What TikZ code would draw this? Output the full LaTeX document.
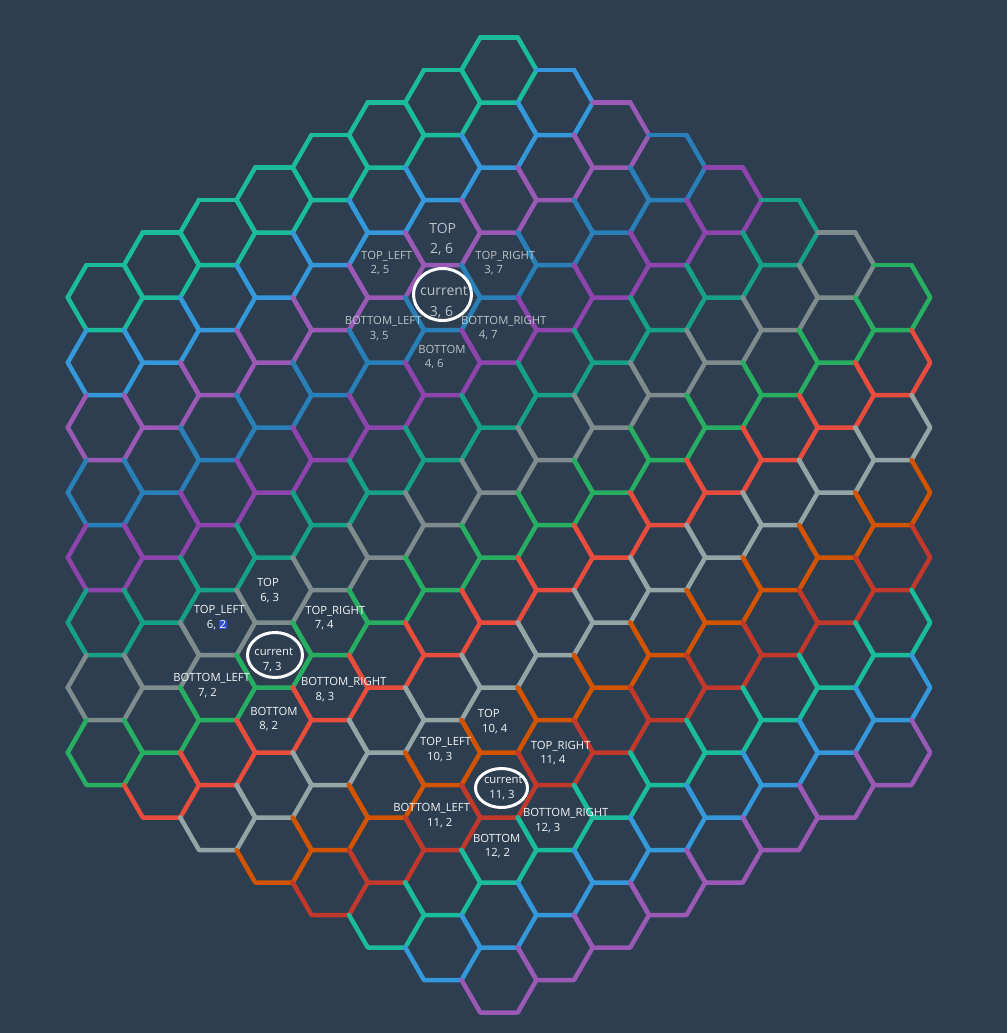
\documentclass[tikz,border=0pt]{standalone}
\usepackage{fontspec}
\setmainfont{Open Sans}
\usetikzlibrary{calc}
\definecolor{cBg}{HTML}{2C3E50}
\definecolor{cRow0}{HTML}{1ABC9C}
\definecolor{cRow1}{HTML}{3498DB}
\definecolor{cRow2}{HTML}{9B59B6}
\definecolor{cRow3}{HTML}{2980B9}
\definecolor{cRow4}{HTML}{8E44AD}
\definecolor{cRow5}{HTML}{16A085}
\definecolor{cRow6}{HTML}{7F8C8D}
\definecolor{cRow7}{HTML}{27AE60}
\definecolor{cRow8}{HTML}{E74C3C}
\definecolor{cRow9}{HTML}{95A5A6}
\definecolor{cRow10}{HTML}{D35400}
\definecolor{cRow11}{HTML}{C0392B}
\definecolor{cLabel}{HTML}{BDC3C7}
\definecolor{cWhite}{HTML}{F4F6F7}
\definecolor{cSelect}{RGB}{52,78,214}
\tikzset{
  hexedge/.style={line width=4.5pt, line cap=round, line join=round},
  %% neighbour labels
  lbl/.style={anchor=base, inner sep=0pt, font=\fontsize{11.3}{13}\selectfont},
  lblBig/.style={lbl, font=\fontsize{14}{16}\selectfont},
  lblA/.style={lbl, text=cLabel},
  lblAbig/.style={lblBig, text=cLabel},
  lblW/.style={lbl, text=cWhite},
  %% ring round the current cell
  ring/.style={draw=white, line width=3pt},
}

\begin{document}
\begin{tikzpicture}[x=1pt, y=-1pt]

%% background, 1 unit = 1 px of the 1007 x 1033 picture
\fill[cBg] (0,0) rectangle (1007,1033);
\useasboundingbox (0,0) rectangle (1007,1033);

%% ============================================================
%%  HEX GRID  -- 15 rows x 15 cols, |row-col| <= 7
%%  rows drawn top band first; an edge shared with the row
%%  above is left to that row
%% ============================================================
\foreach \row in {0,...,14} {
  \pgfmathtruncatemacro{\cmin}{max(0,\row-7)}
  \pgfmathtruncatemacro{\cmax}{min(14,\row+7)}
  \pgfmathtruncatemacro{\ci}{mod(\row,12)}
  \foreach \col in {\cmin,...,\cmax} {
    \pgfmathsetmacro{\hx}{499+(\col-7)*56.25}
    \pgfmathsetmacro{\hy}{297.5+65*\row-32.5*\col}
    \pgfmathtruncatemacro{\hasTL}{and(\row>0,\col>0)}
    \pgfmathtruncatemacro{\hasT}{and(\row>0,\col<\row+7)}
    \begin{scope}[shift={(\hx,\hy)}]
      \draw[hexedge, draw=cRow\ci]
        (18.75,-32.5) -- (37.5,0) -- (18.75,32.5) -- (-18.75,32.5) -- (-37.5,0);
      \ifnum\hasTL=0
        \draw[hexedge, draw=cRow\ci] (-37.5,0) -- (-18.75,-32.5);
      \fi
      \ifnum\hasT=0
        \draw[hexedge, draw=cRow\ci] (-18.75,-32.5) -- (18.75,-32.5);
      \fi
    \end{scope}
  }
}

%% ============================================================
%%  CURRENT CELLS
%% ============================================================
\draw[ring] (442.5,294.5) ellipse [x radius=29, y radius=26];
\draw[ring] (275,655) ellipse [x radius=27.5, y radius=22.5];
\draw[ring] (501.5,788) ellipse [x radius=26, y radius=19.5];

%% ----- cluster 1 (3, 6) -----
\foreach \nm/\px/\py/\txt in {aTop/442.7/233.3/TOP, aTopXY/441.7/253.3/{2, 6},
    aCur/444/295.7/current, aCurXY/441.5/316.7/{3, 6}} {
  \node[lblAbig] (\nm) at (\px,\py) {\txt};
}
\foreach \nm/\px/\py/\txt in {aTL/386.7/259/TOP\_LEFT, aTLXY/380/273.3/{2, 5},
    aTR/505.3/259/TOP\_RIGHT, aTRXY/493.8/273.3/{3, 7},
    aBL/383.2/324.3/BOTTOM\_LEFT, aBLXY/379.2/339.3/{3, 5},
    aBR/503.8/324.3/BOTTOM\_RIGHT, aBRXY/488.2/338.7/{4, 7},
    aB/442/353.3/BOTTOM, aBXY/434.2/367.3/{4, 6}} {
  \node[lblA] (\nm) at (\px,\py) {\txt};
}

%% ----- cluster 2 (7, 3) -----
\foreach \nm/\px/\py/\txt in {bTop/268/586.7/TOP, bTopXY/269.7/601.7/{6, 3},
    bTL/219.3/613.3/TOP\_LEFT,
    bTLXY/216.7/628.3/{6, {\fboxsep=0.6pt\colorbox{cSelect}{2}}},
    bTR/335.3/614/TOP\_RIGHT, bTRXY/324.2/628.3/{7, 4},
    bCur/273.7/655.7/current, bCurXY/272.2/670/{7, 3},
    bBL/211.7/681.7/BOTTOM\_LEFT, bBLXY/207.5/696.7/{7, 2},
    bBR/343.7/685.7/BOTTOM\_RIGHT, bBRXY/325/700.7/{8, 3},
    bB/274/715/BOTTOM, bBXY/268.8/729.3/{8, 2}} {
  \node[lblW] (\nm) at (\px,\py) {\txt};
}

%% ----- cluster 3 (11, 3) -----
\foreach \nm/\px/\py/\txt in {cTop/488.8/717.3/TOP, cTopXY/494.7/732.7/{10, 4},
    cTL/445.7/745.7/TOP\_LEFT, cTLXY/439.7/760.7/{10, 3},
    cTR/560.7/749/TOP\_RIGHT, cTRXY/552.8/763.3/{11, 4},
    cCur/503.3/783.3/current, cCurXY/502/798.3/{11, 3},
    cBL/431.7/811.7/BOTTOM\_LEFT, cBLXY/439.7/826.7/{11, 2},
    cBR/565.8/816.7/BOTTOM\_RIGHT, cBRXY/547.8/831/{12, 3},
    cB/496.7/842.3/BOTTOM, cBXY/497.5/856.7/{12, 2}} {
  \node[lblW] (\nm) at (\px,\py) {\txt};
}

\end{tikzpicture}
\end{document}
